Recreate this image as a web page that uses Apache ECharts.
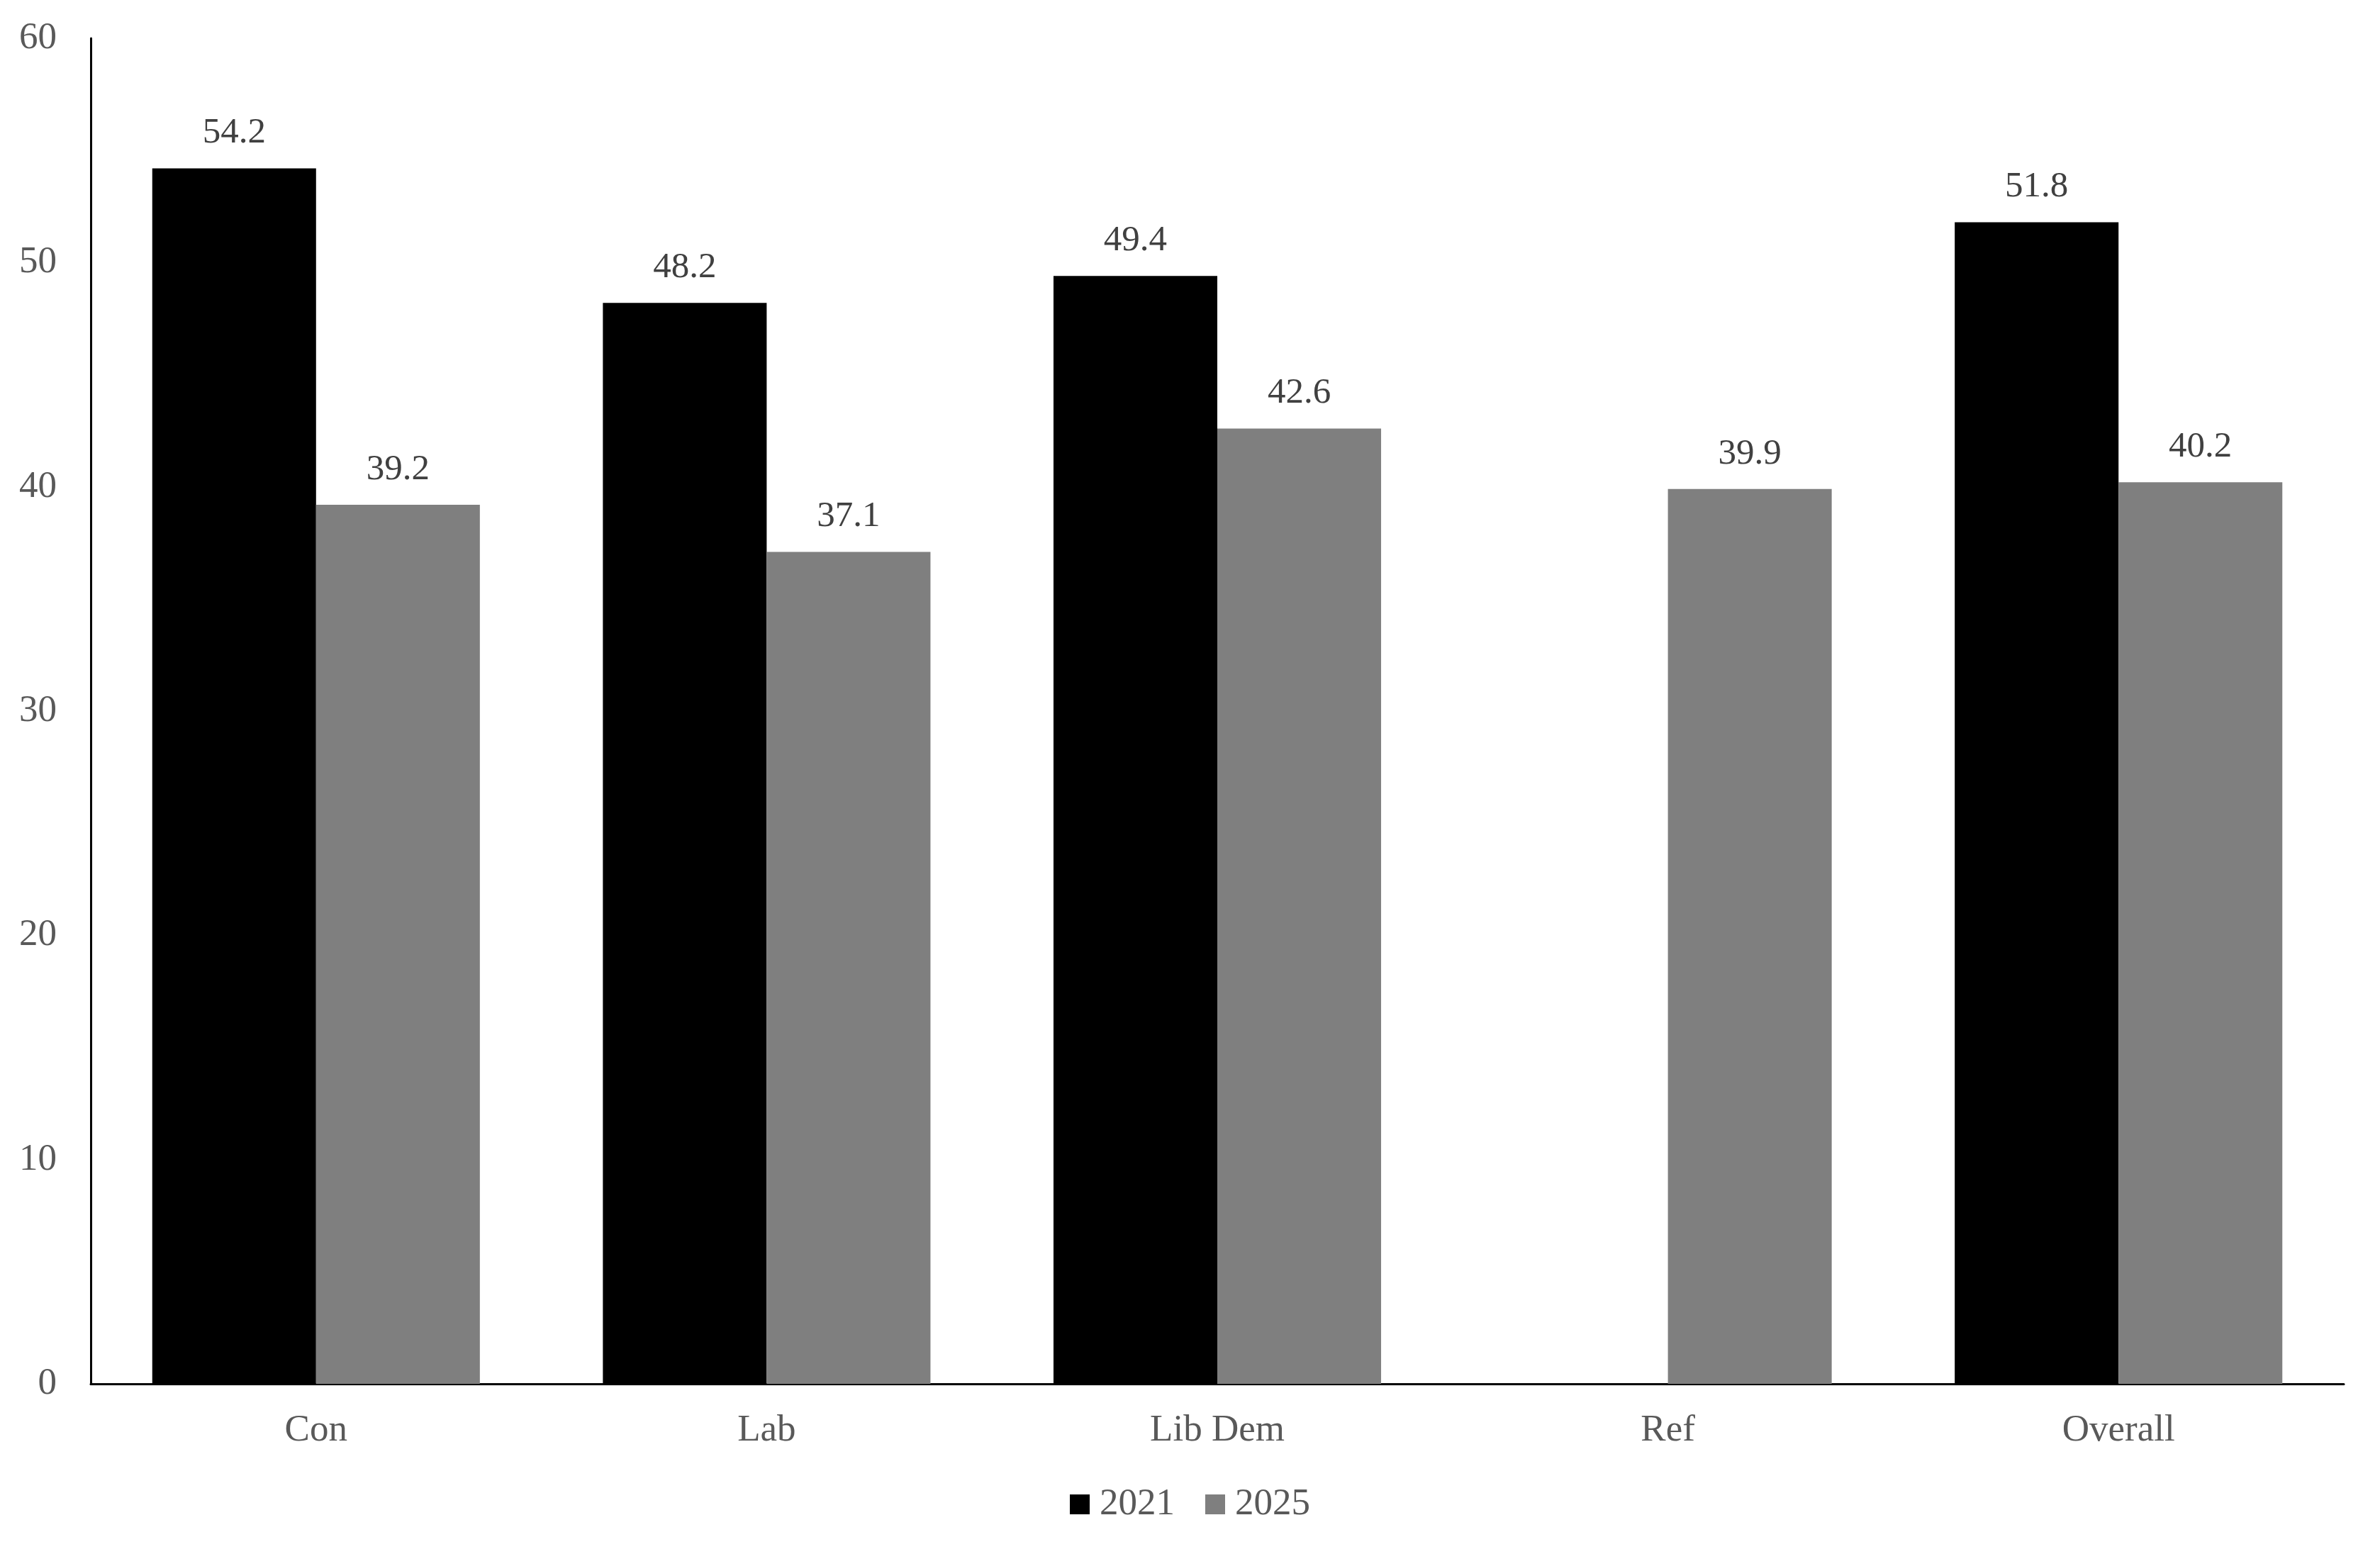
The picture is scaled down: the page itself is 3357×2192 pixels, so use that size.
<!DOCTYPE html>
<html>
<head>
<meta charset="utf-8">
<script src="https://cdn.jsdelivr.net/npm/echarts@6/dist/echarts.min.js"></script>
<style>
  html, body { margin: 0; padding: 0; background: #fff; }
  #chart { width: 3357px; height: 2192px; }
</style>
</head>
<body>
<div id="chart"></div>
<script>
var categories = ['Con', 'Lab', 'Lib Dem', 'Ref', 'Overall'];
var values2021 = [54.2, 48.2, 49.4, null, 51.8];
var values2025 = [39.2, 37.1, 42.6, 39.9, 40.2];
var yTicks = [0, 10, 20, 30, 40, 50, 60];

var fontFamily = '"Liberation Serif", "DejaVu Serif", serif';

var chart = echarts.init(document.getElementById('chart'));

var valueLabel = {
  show: true,
  position: 'top',
  distance: 24,
  color: '#404040',
  fontFamily: fontFamily,
  fontSize: 51,
  formatter: function (p) { return p.value == null ? '' : p.value.toFixed(1); }
};

chart.setOption({
  animation: false,
  backgroundColor: '#fff',
  grid: { left: 128, right: 51, top: 54, bottom: 240 },
  legend: {
    data: ['2021', '2025'],
    top: 2090,
    left: 'center',
    itemWidth: 28,
    itemHeight: 28,
    itemGap: 43,
    icon: 'rect',
    textStyle: {
      color: '#595959',
      fontFamily: fontFamily,
      fontSize: 53,
      lineHeight: 54,
      padding: [0, 0, 0, 9]
    }
  },
  xAxis: {
    type: 'category',
    data: categories,
    axisLine: { show: true, lineStyle: { color: '#000', width: 3 } },
    axisTick: { show: false },
    axisLabel: { color: '#595959', fontFamily: fontFamily, fontSize: 53, margin: 40 },
    splitLine: { show: false }
  },
  yAxis: {
    type: 'value',
    min: yTicks[0],
    max: yTicks[yTicks.length - 1],
    interval: 10,
    axisLine: { show: true, lineStyle: { color: '#000', width: 3 } },
    axisTick: { show: false },
    axisLabel: { color: '#595959', fontFamily: fontFamily, fontSize: 53, margin: 48 },
    splitLine: { show: false }
  },
  series: [
    {
      name: '2021',
      type: 'bar',
      data: values2021,
      barGap: '0%',
      barCategoryGap: '27.3%',
      itemStyle: { color: '#000000' },
      label: valueLabel
    },
    {
      name: '2025',
      type: 'bar',
      data: values2025,
      itemStyle: { color: '#7f7f7f' },
      label: valueLabel
    }
  ]
});
</script>
</body>
</html>
